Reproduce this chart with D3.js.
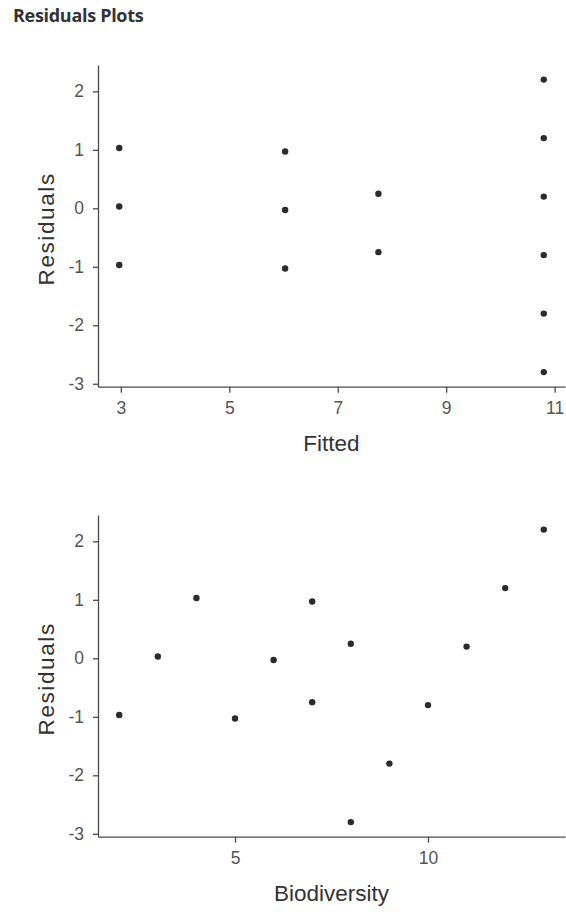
<!DOCTYPE html>
<html>
<head>
<meta charset="utf-8">
<script src="https://cdn.jsdelivr.net/npm/d3@7"></script>
<style>
  body { margin: 0; background: #fff; }
  svg { display: block; }
  .tick text { font-family: "Liberation Sans", Arial, sans-serif; font-size: 17.5px; fill: #555; }
  .axis-title { font-family: "Liberation Sans", Arial, sans-serif; font-size: 22.5px; fill: #333; }
</style>
</head>
<body>
<svg width="566" height="912"></svg>
<script>
// residuals from the model, one per observation
const biodiversity = [2, 3, 4, 5, 6, 7, 7, 8, 8, 9, 10, 11, 12, 13];
const residuals = [-0.97, 0.03, 1.03, -1.03, -0.03, 0.97, -0.75, 0.25, -2.8, -1.8, -0.8, 0.2, 1.2, 2.2];
const fitted = [2.97, 2.97, 2.97, 6.03, 6.03, 6.03, 7.75, 7.75, 10.8, 10.8, 10.8, 10.8, 10.8, 10.8];

const yTicks = [-3, -2, -1, 0, 1, 2];
const fittedTicks = [3, 5, 7, 9, 11];
const bioTicks = [5, 10];

const svg = d3.select("svg");

svg.append("text")
  .attr("x", 13)
  .attr("y", 22)
  .style("font-family", "'Open Sans', 'Noto Sans', sans-serif")
  .style("font-weight", "bold")
  .style("font-size", "18px")
  .style("letter-spacing", "-0.3px")
  .style("fill", "#333")
  .text("Residuals Plots");

// ggplot style 5% expansion of the data range
function expand(ext) {
  const pad = (ext[1] - ext[0]) * 0.05;
  return [ext[0] - pad, ext[1] + pad];
}

function drawPanel(top, xs, xTicks, xLabel) {
  const left = 98, right = 565, height = 321.7;
  const g = svg.append("g").attr("transform", `translate(0,${top})`);

  const x = d3.scaleLinear().domain(expand(d3.extent(xs))).range([left, right]);
  const y = d3.scaleLinear().domain(expand(d3.extent(residuals))).range([height, 0]);

  const xAxis = g.append("g")
    .attr("transform", `translate(0,${height})`)
    .call(d3.axisBottom(x).tickValues(xTicks).tickFormat(d => String(d))
      .tickSize(6).tickPadding(9).tickSizeOuter(0));

  const yAxis = g.append("g")
    .attr("transform", `translate(${left},0)`)
    .call(d3.axisLeft(y).tickValues(yTicks).tickFormat(d => String(d))
      .tickSize(5).tickPadding(9).tickSizeOuter(0));

  [xAxis, yAxis].forEach(a => {
    a.select(".domain").attr("stroke", "#4a4a4a").attr("stroke-width", 1.3);
    a.selectAll(".tick line").attr("stroke", "#4a4a4a").attr("stroke-width", 1.3);
  });

  g.append("g").selectAll("circle")
    .data(xs)
    .join("circle")
    .attr("cx", d => x(d))
    .attr("cy", (d, i) => y(residuals[i]))
    .attr("r", 3.2)
    .attr("fill", "#2b2b2b");

  g.append("text")
    .attr("class", "axis-title")
    .attr("x", (left + right) / 2)
    .attr("y", height + 64)
    .attr("text-anchor", "middle")
    .text(xLabel);

  g.append("text")
    .attr("class", "axis-title")
    .attr("transform", `translate(54,${height / 2 + 3}) rotate(-90)`)
    .attr("text-anchor", "middle")
    .style("letter-spacing", "1.6px")
    .text("Residuals");
}

drawPanel(65, fitted, fittedTicks, "Fitted");
drawPanel(515, biodiversity, bioTicks, "Biodiversity");
</script>
</body>
</html>
